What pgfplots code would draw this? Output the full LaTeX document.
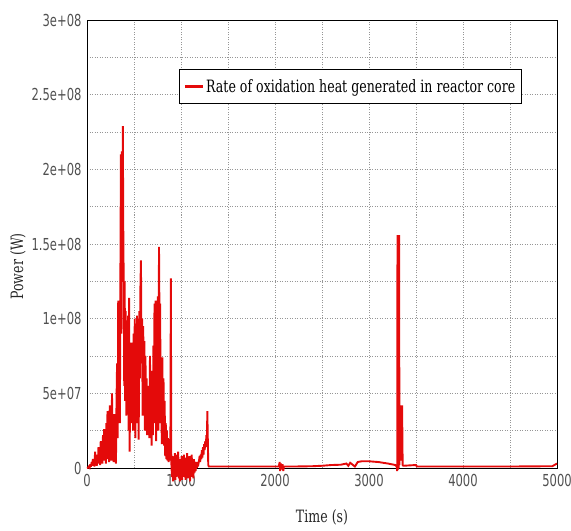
\documentclass[border=0pt]{standalone}
\usepackage{pgfplots}
\pgfplotsset{compat=1.18}
\usepackage{fontspec}
\newfontfamily\tickfont{DejaVu Sans}[FakeStretch=0.7]
\newfontfamily\serifont{DejaVu Serif}[FakeStretch=0.74]
\definecolor{lnred}{RGB}{228,10,10}
\definecolor{tickgray}{RGB}{80,80,80}
\definecolor{gridgray}{RGB}{150,150,150}
\begin{document}
\begin{tikzpicture}
\begin{axis}[
  scale only axis,
  width=470pt, height=448pt,
  xmin=0, xmax=5000, ymin=0, ymax=3e8,
  clip=false,
  scaled y ticks=false, scaled x ticks=false,
  xtick={0,1000,2000,3000,4000,5000},
  xticklabels={0,1000,2000,3000,4000,5000},
  ytick={0,5e7,1e8,1.5e8,2e8,2.5e8,3e8},
  yticklabels={0,5e+07,1e+08,1.5e+08,2e+08,2.5e+08,3e+08},
  minor x tick num=1, minor y tick num=1,
  major tick length=0pt, minor tick length=0pt,
  grid=both,
  major grid style={gridgray, line width=0.6pt, dash pattern=on 1pt off 1.5pt},
  minor grid style={gridgray, line width=0.6pt, dash pattern=on 1pt off 1.5pt},
  axis line style={black, line width=0.8pt},
  ticklabel style={font=\tickfont\fontsize{16.5}{16.5}\selectfont, text=tickgray},
  xticklabel style={yshift=-3pt},
  yticklabel style={xshift=-2pt},
  xlabel={Time (s)},
  ylabel={Power (W)},
  every axis x label/.style={at={(rel axis cs:0.5,0)}, yshift=-49pt, anchor=center, font=\serifont\fontsize{17}{17}\selectfont, text=black!85},
  every axis y label/.style={at={(rel axis cs:0,0.45)}, xshift=-69pt, anchor=center, rotate=90, font=\serifont\fontsize{17}{17}\selectfont, text=black!85},
  legend style={at={(rel axis cs:0.196,0.891)}, anchor=north west, draw=black, line width=0.6pt,
    font=\serifont\fontsize{17}{19}\selectfont, inner xsep=4pt, inner ysep=8pt},
  legend image code/.code={\draw[#1, line width=2.8pt] (0pt,0pt) -- (18pt,0pt);},
]
\coordinate (sw) at (rel axis cs:0,0);
\coordinate (ne) at (rel axis cs:1,1);
\addplot[lnred, line width=1.9pt, line join=miter, miter limit=3] coordinates {
(0,0) (10,2e5) (20,1e6) (28,3e5) (35,2.5e6) (42,8e5) (50,4e6) (56,1.5e6) (62,6e6) (68,2e6) (74,4e6) (80,1e6) (86,1.1e7) (92,3e6) (98,7e6) (104,1.5e6) (110,9e6) (116,3e6) (122,1.4e7) (128,4e6) (134,1.1e7) (140,2e6) (146,1.8e7) (152,6e6) (158,1.5e7) (164,3e6) (170,2.2e7) (176,8e6) (182,2.6e7) (188,5e6) (194,1.9e7) (200,3e6) (206,3.0e7) (212,9e6) (218,3.8e7) (224,6e6) (230,2.4e7) (236,4e6) (242,4.2e7) (248,1e7) (254,3.2e7) (260,5e6) (266,5.0e7) (272,8e6) (278,2.8e7) (284,4e6) (290,3.6e7) (296,6e6) (302,2.5e7) (308,3e6) (314,4.5e7)
(320,7.0e7) (326,2.0e7) (332,1.12e8) (338,4.5e7) (344,1.1e8) (350,3.0e7) (356,1.4e8) (361,2.1e8) (366,9e7) (371,2.12e8) (376,1.3e8) (381,2.29e8) (386,1.6e8) (391,1.2e8) (396,5.5e7) (401,1.25e8) (406,4.5e7) (412,1.05e8) (418,3.5e7) (424,9.5e7) (430,5e7) (436,1.02e8) (442,2.5e7) (448,1.14e8) (454,1.1e7) (460,7e7)
(466,3.0e7) (472,8.4e7) (478,4.0e7) (484,7.5e7) (490,2.5e7) (496,9.0e7) (502,4.5e7) (508,1.0e8) (514,2.0e7) (520,9.5e7) (526,5.0e7) (532,1.02e8) (538,3.0e7) (544,1.0e8) (550,1.9e7) (556,1.05e8) (562,6.0e7) (568,1.2e8) (574,1.39e8) (580,7.0e7) (586,1.0e8) (592,3.5e7) (598,9.5e7) (604,5.0e7) (610,8.5e7) (616,2.5e7)
(622,7.5e7) (628,3.0e7) (634,6.0e7) (640,2.2e7) (646,5.5e7) (652,3.2e7) (658,4.8e7) (664,2.0e7) (670,7.5e7) (676,2.8e7) (682,5.0e7) (688,1.5e7) (694,6.5e7) (700,2.2e7) (706,8.2e7) (712,3.0e7)
(718,1.1e8) (724,4.0e7) (730,1.12e8) (736,1.8e7) (742,1.1e8) (748,5.0e7) (754,1.15e8) (760,2.5e7) (766,1.48e8) (772,9.0e7) (778,1.1e8) (784,3.0e7) (790,5.0e7) (796,1.6e7)
(802,7.4e7) (808,2.0e7) (814,6.0e7) (820,1.5e7) (826,4.5e7) (832,8e6) (838,3.0e7) (844,6e6) (850,2.5e7) (856,5e6) (862,2.0e7) (868,4e6) (874,1.8e7) (880,5e6) (887,1e7) (892,1.27e8) (897,4e6)
(904,-6e6) (910,8e6) (916,-9e6) (922,5e6) (928,-4e6) (934,1e7) (940,-8e6) (946,4e6) (952,-6e6) (958,9e6) (964,-3e6) (970,1.1e7) (976,-7e6) (982,6e6) (988,-9e6) (994,3e6) (1000,-5e6) (1006,8e6) (1012,-8e6) (1018,5e6) (1024,-4e6) (1030,9e6) (1036,-6e6) (1042,4e6) (1048,-8e6) (1054,7e6) (1060,-3e6) (1066,1e7) (1072,-7e6) (1078,5e6) (1084,-5e6) (1090,8e6) (1096,-9e6) (1102,6e6) (1108,-4e6) (1114,9e6) (1120,-6e6) (1126,3e6) (1132,-7e6) (1138,6e6) (1144,-3e6) (1150,4e6) (1156,-2e6) (1162,3e6) (1168,0) (1174,4e6) (1180,1e6) (1186,3e6)
(1192,5e6) (1198,8e6) (1204,4e6) (1210,9e6) (1216,6e6) (1222,1.2e7) (1228,7e6) (1234,1.4e7) (1240,9e6) (1246,1.6e7) (1252,1.2e7) (1258,1.8e7) (1264,1.4e7) (1270,2.2e7) (1276,1.8e7) (1280,3.8e7) (1285,2.0e7) (1290,2e6) (1296,1e6)
(1310,1e6) (1400,1e6) (1600,1e6) (1800,1e6) (2000,1e6) (2040,1e6) (2050,4e6) (2055,-2e6) (2062,3e6) (2070,-1e6) (2080,2.5e6) (2088,-2e6) (2095,1e6) (2200,1e6) (2400,1.2e6) (2500,1.5e6) (2600,2e6) (2700,2.2e6) (2760,3e6) (2780,1.5e6) (2800,3.5e6) (2830,2e6) (2850,1e6) (2880,4e6) (2920,4.5e6) (3000,4.5e6) (3100,4e6) (3200,3e6) (3280,2e6) (3295,1e6)
(3300,-2e6) (3303,1.56e8) (3308,-1e6) (3312,1.56e8) (3316,0) (3320,1.56e8) (3324,2e6) (3328,4.2e7) (3334,5e6) (3340,4.2e7) (3346,5e6) (3352,4.2e7) (3358,2e6) (3365,1.5e6) (3500,2e6) (3510,1e6) (4000,1e6) (4500,1e6) (4950,1.2e6) (5000,3e6)
};
\addlegendentry{Rate of oxidation heat generated in reactor core}
\end{axis}
\pgfresetboundingbox
\path[use as bounding box] ([xshift=-87pt,yshift=-62pt]sw) rectangle ([xshift=14pt,yshift=20pt]ne);
\end{tikzpicture}
\end{document}
